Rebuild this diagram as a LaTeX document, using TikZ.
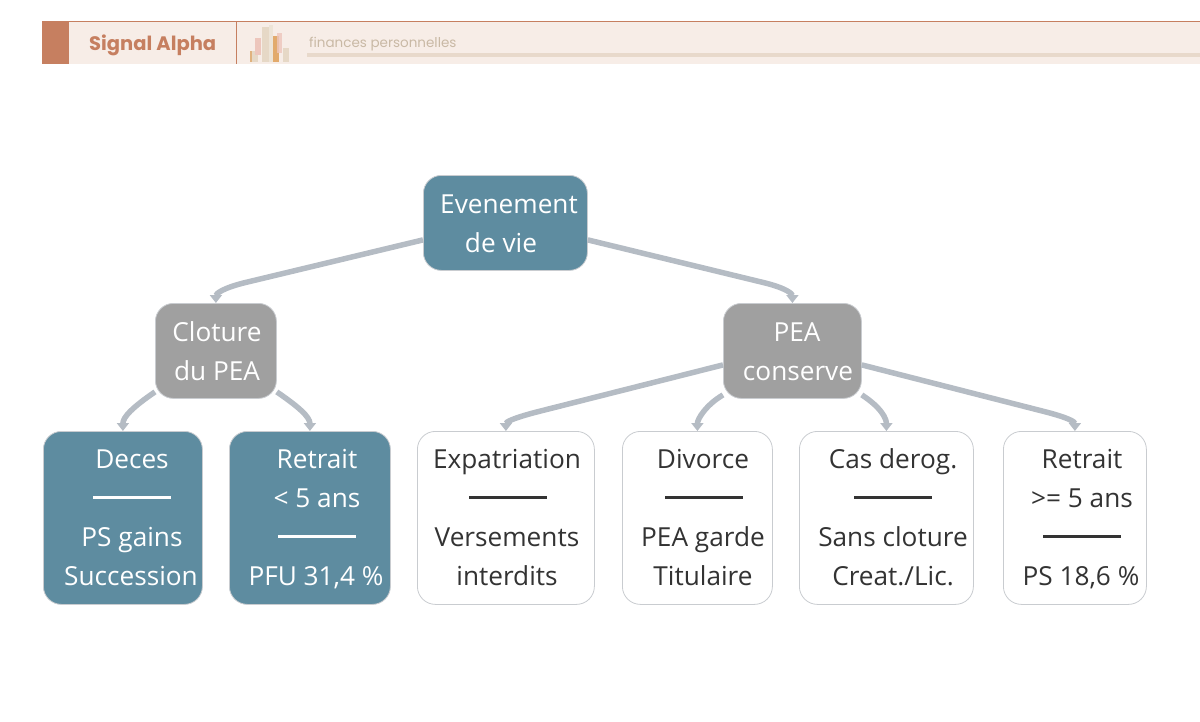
\documentclass[tikz,border=0pt]{standalone}
\usepackage{fontspec}
\setmainfont{Open Sans}
\newfontfamily\headfont{Poppins}
\usetikzlibrary{arrows.meta}
\definecolor{tealfill}{HTML}{5E8CA0}
\definecolor{greyfill}{HTML}{A0A0A0}
\definecolor{boxline}{HTML}{C9CCD0}
\definecolor{linkcolor}{HTML}{B5BCC4}
\definecolor{darktext}{HTML}{333333}
\definecolor{headfill}{HTML}{F7EDE7}
\definecolor{headline}{HTML}{C67F60}
\definecolor{subtext}{HTML}{C9B9A5}
\definecolor{sublinecolor}{HTML}{E8D9CB}
\definecolor{barbeige}{HTML}{E6D8C6}
\definecolor{barpink}{HTML}{EDC6BC}
\definecolor{barorange}{HTML}{DD9A4E}
\tikzset{
	box/.style={
		rectangle,
		rounded corners=18pt,
		draw=boxline,
		line width=.8pt,
		inner sep=0pt,
		anchor=north west
	},
	teal box/.style={box, fill=tealfill},
	grey box/.style={box, fill=greyfill},
	white box/.style={box, fill=white},
	line text/.style={
		anchor=base,
		inner sep=0pt,
		font=\fontsize{26.2}{26.2}\selectfont,
		text=white
	},
	dark text/.style={line text, text=darktext},
	sep rule/.style={
		rectangle,
		inner sep=0pt,
		minimum width=78pt,
		minimum height=3pt,
		fill=white
	},
	dark rule/.style={sep rule, fill=darktext},
	link/.style={
		draw=linkcolor,
		line width=5.5pt,
		-{Triangle[width=12pt,length=8pt]}
	},
}

\begin{document}
\begin{tikzpicture}[x=1pt, y=-1pt]
	\useasboundingbox (0,0) rectangle (1200,721);
	% header
	\fill[headfill] (42,21) rectangle (1200,64);
	\draw[headline, line width=1pt] (42,21.5) -- (1200,21.5);
	\fill[headline] (42,21) rectangle (69,64);
	\draw[headline, line width=1pt] (236.5,21) -- (236.5,64);
	\node[anchor=base west, inner sep=0pt, text=headline, font=\headfont\bfseries\fontsize{19.5}{19.5}\selectfont] (brand) at (89,50) {Signal Alpha};
	\node[anchor=base west, inner sep=0pt, text=subtext, font=\headfont\fontsize{13.5}{13.5}\selectfont] (topic) at (309,47) {finances personnelles};
	\fill[sublinecolor] (307,53) rectangle (1200,57);
	% logo
	\fill[barbeige] (250,51) rectangle (258,62);
	\fill[barorange, fill opacity=.6] (250,51) rectangle (252,62);
	\fill[barpink] (255,38) rectangle (261,55);
	\fill[barbeige] (262,27) rectangle (269,62);
	\fill[barbeige!70] (269,25) rectangle (273,62);
	\fill[barorange, fill opacity=.8] (273,36) rectangle (279,62);
	\fill[barpink, fill opacity=.8] (277,33) rectangle (282,53);
	\fill[barbeige] (283,48) rectangle (289,62);
	% boxes
	\node[teal box, minimum width=164pt, minimum height=95pt] (root) at (423,175) {};
	\node[grey box, minimum width=121pt, minimum height=95pt] (cloture) at (155,303) {};
	\node[grey box, minimum width=138pt, minimum height=95pt] (conserve) at (723,303) {};
	\node[teal box, minimum width=159pt, minimum height=173pt] (deces) at (43,431) {};
	\node[teal box, minimum width=161pt, minimum height=173pt] (retraitA) at (229,431) {};
	\node[white box, minimum width=177pt, minimum height=173pt] (expat) at (417,431) {};
	\node[white box, minimum width=150pt, minimum height=173pt] (divorce) at (622,431) {};
	\node[white box, minimum width=174pt, minimum height=173pt] (derog) at (799,431) {};
	\node[white box, minimum width=143pt, minimum height=173pt] (retraitB) at (1003,431) {};
	% texts
	\node[line text] (root1) at (509,213) {Evenement};
	\node[line text] (root2) at (501,252) {de vie};
	\node[line text] (clo1) at (217,341) {Cloture};
	\node[line text] (clo2) at (217,380) {du PEA};
	\node[line text] (con1) at (797,341) {PEA};
	\node[line text] (con2) at (798,380) {conserve};
	\node[line text] (dec1) at (132,468) {Deces};
	\node[sep rule] (dec2) at (132,497) {};
	\node[line text] (dec3) at (132,546) {PS gains};
	\node[line text] (dec4) at (131,585) {Succession};
	\node[line text] (retA1) at (317,468) {Retrait};
	\node[line text] (retA2) at (317,507) {< 5 ans};
	\node[sep rule] (retA3) at (317,536) {};
	\node[line text] (retA4) at (316,585) {PFU 31,4 \%};
	\node[dark text] (exp1) at (507,468) {Expatriation};
	\node[sep rule, dark rule] (exp2) at (507.5,497) {};
	\node[dark text] (exp3) at (507,546) {Versements};
	\node[dark text] (exp4) at (507,585) {interdits};
	\node[dark text] (div1) at (703,468) {Divorce};
	\node[sep rule, dark rule] (div2) at (703.5,497) {};
	\node[dark text] (div3) at (703,546) {PEA garde};
	\node[dark text] (div4) at (703,585) {Titulaire};
	\node[dark text] (der1) at (893,468) {Cas derog.};
	\node[sep rule, dark rule] (der2) at (892.5,497) {};
	\node[dark text] (der3) at (893,546) {Sans cloture};
	\node[dark text] (der4) at (893,585) {Creat./Lic.};
	\node[dark text] (retB1) at (1082,468) {Retrait};
	\node[dark text] (retB2) at (1082,507) {>= 5 ans};
	\node[sep rule, dark rule] (retB3) at (1081.5,536) {};
	\node[dark text] (retB4) at (1081,585) {PS 18,6 \%};
	% links
	\draw[link] ([yshift=-17pt]root.west) -- ++(-175,42) .. controls +(-26,6) and +(0,-9) .. (cloture.north);
	\draw[link] ([yshift=-17pt]root.east) -- ++(173,42) .. controls +(26,6) and +(0,-9) .. (conserve.north);
	\draw[link] ([yshift=-41pt]cloture.west) .. controls +(-22,15) and +(0,-14) .. (deces.north);
	\draw[link] ([yshift=-41pt]cloture.east) .. controls +(22,15) and +(0,-14) .. (retraitA.north);
	\draw[link] ([yshift=-14pt]conserve.west) -- ++(-182,46) .. controls +(-28,7) and +(0,-9) .. (expat.north);
	\draw[link] ([yshift=-44pt]conserve.west) .. controls +(-17,10) and +(0,-12) .. (divorce.north);
	\draw[link] ([yshift=-44pt]conserve.east) .. controls +(20,13) and +(0,-12) .. (derog.north);
	\draw[link] ([yshift=-14pt]conserve.east) -- ++(180,46) .. controls +(28,7) and +(0,-9) .. (retraitB.north);
\end{tikzpicture}
\end{document}
